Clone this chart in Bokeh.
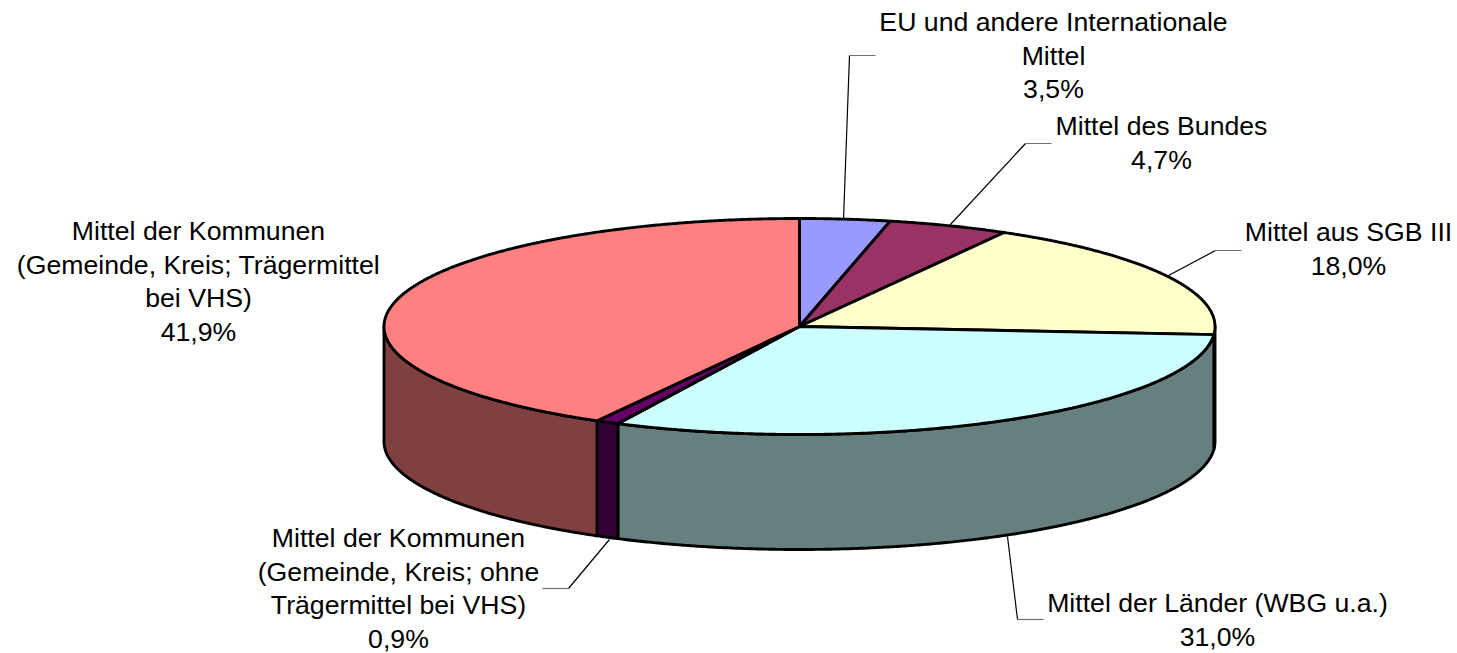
import numpy as np
from bokeh.plotting import figure
from bokeh.embed import file_html
from bokeh.resources import INLINE
from bokeh.core.properties import value

# ---- data -------------------------------------------------------------
categories = [
    "EU und andere Internationale Mittel",
    "Mittel des Bundes",
    "Mittel aus SGB III",
    "Mittel der Länder (WBG u.a.)",
    "Mittel der Kommunen (Gemeinde, Kreis; ohne Trägermittel bei VHS)",
    "Mittel der Kommunen (Gemeinde, Kreis; Trägermittel bei VHS)",
]
shares = [3.5, 4.7, 18.0, 31.0, 0.9, 41.9]
share_labels = ["3,5%", "4,7%", "18,0%", "31,0%", "0,9%", "41,9%"]
label_lines = [
    ["EU und andere Internationale", "Mittel"],
    ["Mittel des Bundes"],
    ["Mittel aus SGB III"],
    ["Mittel der Länder (WBG u.a.)"],
    ["Mittel der Kommunen", "(Gemeinde, Kreis; ohne", "Trägermittel bei VHS)"],
    ["Mittel der Kommunen", "(Gemeinde, Kreis; Trägermittel", "bei VHS)"],
]

# ---- styles and layout (page pixels) ----------------------------------
top_colors = ["#9999FF", "#993366", "#FFFFCC", "#CCFFFF", "#660066", "#FF8080"]
side_colors = ["#4C4C80", "#4C1933", "#808066", "#668080", "#330033", "#804040"]
CX, CY, RX, RY, DEPTH = 799.0, 326.0, 415.5, 108.0, 115.0
W, H = 1457, 653
label_centres = [(1053, 21.5), (1161, 125.5), (1348, 231.5), (1217, 602.5), (398, 537.5), (198, 230.5)]
LINE_H = 33.6
FONT = "Liberation Sans"
# leader: point on pie rim, elbow, end near the label
leaders = [
    ((843, 219), (849, 55), (875, 55)),
    ((949, 225), (1025, 143), (1051, 143)),
    ((1168, 275), (1215, 250), (1241, 250)),
    ((1007, 536), (1017, 619), (1043, 619)),
    ((609, 539), (568, 588), (542, 588)),
]

p = figure(width=W, height=H, x_range=(0, W), y_range=(H, 0),
           output_backend="svg", toolbar_location=None, min_border=0,
           background_fill_color="white", border_fill_color="white",
           outline_line_color=None)
p.axis.visible = False
p.grid.visible = False


def ex(a):
    return CX + RX * np.sin(np.radians(a))


def ey(a):
    return CY - RY * np.cos(np.radians(a))


edges = np.concatenate([[0], np.cumsum(shares)]) * 360 / np.sum(shares)
LW = 2.9

# side walls: only the front half of the rim (90..270 degrees) shows
for i in range(len(shares)):
    a0, a1 = max(edges[i], 90), min(edges[i + 1], 270)
    if a1 <= a0:
        continue
    t = np.linspace(a0, a1, max(int((a1 - a0) * 3), 2))
    xs = np.concatenate([ex(t), ex(t[::-1])])
    ys = np.concatenate([ey(t), ey(t[::-1]) + DEPTH])
    p.patch(xs, ys, fill_color=side_colors[i], line_color="black", line_width=LW, line_join="round")

# top faces
for i in range(len(shares)):
    t = np.linspace(edges[i], edges[i + 1], max(int((edges[i + 1] - edges[i]) * 3), 2))
    xs = np.concatenate([[CX], ex(t)])
    ys = np.concatenate([[CY], ey(t)])
    p.patch(xs, ys, fill_color=top_colors[i], line_color="black", line_width=LW, line_join="round")

# leader lines
for (a, b, c) in leaders:
    p.line([a[0], b[0]], [a[1], b[1]], line_color="black", line_width=1.2)
    p.line([b[0], c[0]], [b[1], c[1]], line_color="#707070", line_width=1.2)

# labels
tx, ty, tt = [], [], []
for (cx, cy), lines, pct in zip(label_centres, label_lines, share_labels):
    for j, s in enumerate(lines + [pct]):
        tx.append(cx)
        ty.append(cy + j * LINE_H)
        tt.append(s)
p.text(tx, ty, text=tt, text_font=value(FONT), text_font_size="26.67px",
       text_color="black", text_align="center", text_baseline="middle")

open("out.html", "w").write(file_html(p, INLINE))
